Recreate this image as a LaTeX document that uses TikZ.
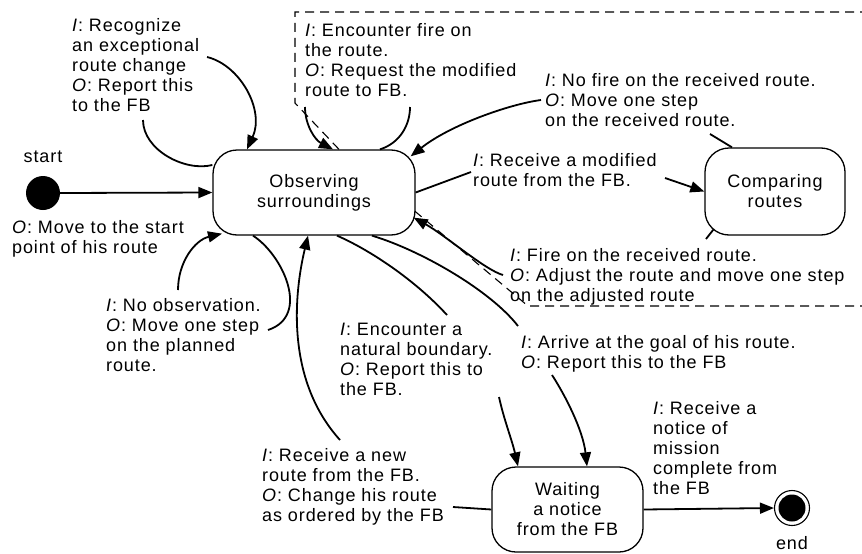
\documentclass[tikz,border=0pt]{standalone}
\usepackage{fontspec}
\setmainfont{Liberation Sans}[LetterSpace=5.0]
\usetikzlibrary{arrows.meta}
\newcommand{\inp}{\textit{I}:}
\newcommand{\outp}{\textit{O}:}
\begin{document}
\begin{tikzpicture}[x=1pt,y=-1pt,
  every node/.style={font=\fontsize{18}{20}\selectfont, inner sep=0pt},
  stbox/.style={draw, line width=1.3pt, rounded corners=24pt, align=center},
  lbl/.style={align=left, anchor=north west},
  edge/.style={line width=1.8pt},
  arr/.style={edge, -{Triangle[length=14pt,width=11pt]}},
  zone/.style={dash pattern=on 9pt off 6pt, line width=1.1pt}]
\useasboundingbox (0,0) rectangle (862,554);

% states
\node[stbox, minimum width=202pt, minimum height=85pt] (obs) at (314,192.5) {Observing\\surroundings};
\node[stbox, minimum width=140pt, minimum height=87pt] (cmp) at (775,191.5) {Comparing\\routes};
\node[stbox, minimum width=151pt, minimum height=85pt] (wait) at (567.5,509.5) {Waiting\\a notice\\from the FB};

% initial and final pseudo-states
\node[circle, fill=black, minimum size=34pt] (start) at (43,193) {};
\node (startlbl) at (43,157) {start};
\node[circle, draw, line width=1.1pt, minimum size=35pt] (fin) at (792,508) {};
\node[circle, fill=black, minimum size=27pt] (finin) at (fin) {};
\node (finlbl) at (792,543) {end};

% transition labels
\node[lbl] (la) at (72,18.3) {\inp{} Recognize\\an exceptional\\route change\\\outp{} Report this\\to the FB};
\node[lbl] (lb) at (12,220.3) {\outp{} Move to the start\\point of his route};
\node[lbl] (lc) at (305,23.3) {\inp{} Encounter fire on\\the route.\\\outp{} Request the modified\\route to FB.};
\node[lbl] (ld) at (545,73.3) {\inp{} No fire on the received route.\\\outp{} Move one step\\on the received route.};
\node[lbl] (le) at (473,153.3) {\inp{} Receive a modified\\route from the FB.};
\node[lbl] (lf) at (510,248.3) {\inp{} Fire on the received route.\\\outp{} Adjust the route and move one step\\on the adjusted route};
\node[lbl] (lg) at (106,298.3) {\inp{} No observation.\\\outp{} Move one step\\on the planned\\route.};
\node[lbl] (lh) at (340,323.3) {\inp{} Encounter a\\natural boundary.\\\outp{} Report this to\\the FB.};
\node[lbl] (li) at (521,335.3) {\inp{} Arrive at the goal of his route.\\\outp{} Report this to the FB};
\node[lbl] (lj) at (262,448.3) {\inp{} Receive a new\\route from the FB.\\\outp{} Change his route\\as ordered by the FB};
\node[lbl] (lk) at (653,401.3) {\inp{} Receive a\\notice of\\mission\\complete from\\the FB};

% points where connectors meet their labels
\coordinate (a1) at (143,120);
\coordinate (a2) at (207,57);
\coordinate (c1) at (410,107);
\coordinate (c2) at (305,107);
\coordinate (d1) at (710,134);
\coordinate (d2) at (541,100);
\coordinate (e1) at (471,172);
\coordinate (e2) at (665,178);
\coordinate (f1) at (706,239);
\coordinate (f2) at (503,275);
\coordinate (g1) at (178,290);
\coordinate (g2) at (268,330);
\coordinate (h1) at (447,315);
\coordinate (h2) at (499,397);
\coordinate (i1) at (518,326);
\coordinate (i2) at (552,375);
\coordinate (j1) at (453,507);
\coordinate (j2) at (340,440);

% fire handling region
\draw[zone] ([xshift=25pt]obs.north) -- (295,103) -- (295,12) -- (863,12);
\draw[zone] ([xshift=-1pt,yshift=-18.5pt]obs.east) -- (528,306) -- (863,306);

% transitions
\draw[arr] (start.east) -- (obs.west);

\draw[edge] ([yshift=27.5pt]obs.west) .. controls (185,172) and (143,150) .. (a1);
\draw[arr] (a2) .. controls (240,65) and (265,110) .. ([xshift=-67pt]obs.north);

\draw[edge] ([xshift=66pt]obs.north) .. controls (400,143) and (410,125) .. (c1);
\draw[arr] (c2) .. controls (305,125) and (315,140) .. ([xshift=19pt]obs.north);

\draw[edge] ([xshift=-43pt]cmp.north) -- (d1);
\draw[arr] (d2) .. controls (510,104) and (450,125) .. ([xshift=-5pt,yshift=-7pt]obs.north east);

\draw[edge] (obs.east) -- (e1);
\draw[arr] (e2) -- (cmp.west);

\draw[edge] ([xshift=9pt,yshift=6pt]cmp.south west) -- (f1);
\draw[arr] (f2) .. controls (485,270) and (445,235) .. ([xshift=-2pt,yshift=18pt]obs.south east);

\draw[edge] ([xshift=-61pt]obs.south) .. controls (283,255) and (311,316) .. (g2);
\draw[arr] (g1) .. controls (178,262) and (195,240) .. ([xshift=-92pt,yshift=2pt]obs.south);

\draw[edge] ([xshift=23pt]obs.south) .. controls (370,250) and (415,280) .. (h1);
\draw[arr] (h2) .. controls (504,420) and (512,440) .. ([xshift=-49.5pt]wait.north);

\draw[edge] ([xshift=58pt]obs.south) .. controls (420,250) and (490,290) .. (i1);
\draw[arr] (i2) .. controls (565,395) and (583,430) .. ([xshift=19.5pt]wait.north);

\draw[edge] (wait.west) -- (j1);
\draw[arr] (j2) .. controls (284,378) and (295,290) .. ([xshift=-6pt]obs.south);

\draw[arr] (wait.east) -- (fin.west);
\end{tikzpicture}
\end{document}
